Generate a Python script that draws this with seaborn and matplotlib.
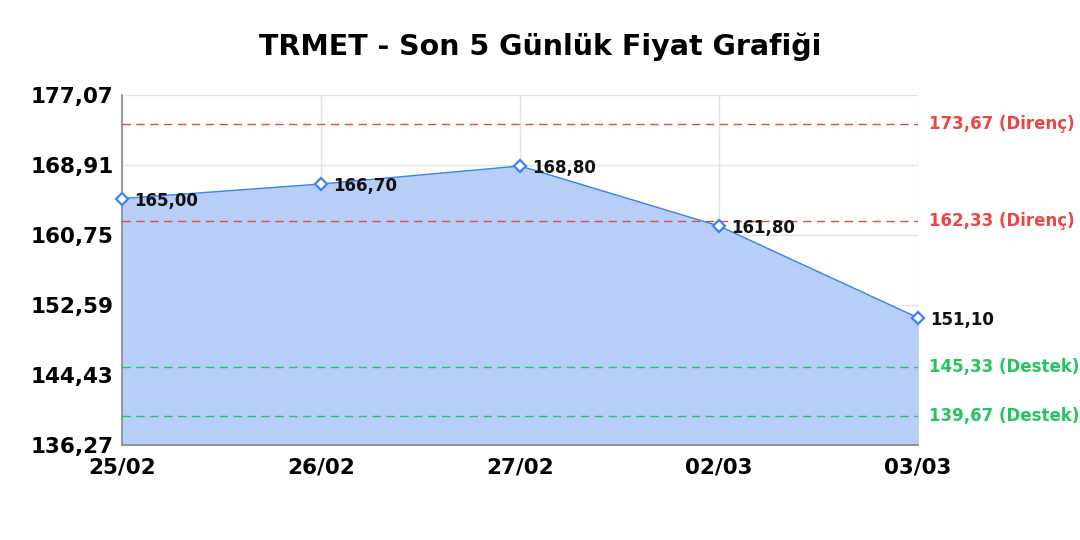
import matplotlib
matplotlib.use("Agg")
import matplotlib.pyplot as plt
import seaborn as sns
import pandas as pd

# data
dates = ["25/02", "26/02", "27/02", "02/03", "03/03"]
prices = [165.00, 166.70, 168.80, 161.80, 151.10]
resistance = [173.67, 162.33]
support = [145.33, 139.67]
y_min, y_max = 136.27, 177.07
y_ticks = [136.27, 144.43, 152.59, 160.75, 168.91, 177.07]

sns.set_style("white")
plt.rcParams["font.family"] = ["DejaVu Sans"]
plt.rcParams["text.color"] = "black"

df = pd.DataFrame({"x": range(len(dates)), "price": prices})

fig = plt.figure(figsize=(10.8, 5.4), dpi=100)
ax = fig.add_axes([0.113, 0.176, 0.737, 0.648])

line_col = "#3b82f6"
ax.fill_between(df["x"], df["price"], y_min, color="#b7cff8", zorder=1)
sns.lineplot(data=df, x="x", y="price", ax=ax, color=line_col, linewidth=1,
             marker="D", markersize=6, markerfacecolor="white",
             markeredgecolor=line_col, markeredgewidth=1.6, zorder=4, clip_on=False)

for lvl in resistance:
    ax.axhline(lvl, color="#ef4444", linestyle=(0, (6, 4)), linewidth=1, zorder=3)
    ax.text(1.014, lvl, f"{lvl:.2f} (Direnç)".replace(".", ","), transform=ax.get_yaxis_transform(),
            color="#ef4444", fontsize=12, fontweight="bold", va="center", ha="left", clip_on=False)
for lvl in support:
    ax.axhline(lvl, color="#22c55e", linestyle=(0, (6, 4)), linewidth=1, zorder=3)
    ax.text(1.014, lvl, f"{lvl:.2f} (Destek)".replace(".", ","), transform=ax.get_yaxis_transform(),
            color="#22c55e", fontsize=12, fontweight="bold", va="center", ha="left", clip_on=False)

for i, p in enumerate(prices):
    ax.annotate(f"{p:.2f}".replace(".", ","), (i, p), xytext=(9, -1.5), textcoords="offset points",
                fontsize=12, fontweight="bold", color="#111111", va="center", ha="left", zorder=5)

ax.set_xlim(0, len(dates) - 1)
ax.set_ylim(y_min, y_max)
ax.set_xticks(range(len(dates)))
ax.set_xticklabels(dates)
ax.set_yticks(y_ticks)
ax.set_yticklabels([f"{t:.2f}".replace(".", ",") for t in y_ticks])
ax.tick_params(axis="both", labelsize=15.5, length=0, labelcolor="black")
ax.tick_params(axis="x", pad=9)
ax.tick_params(axis="y", pad=6)
for lab in ax.get_xticklabels() + ax.get_yticklabels():
    lab.set_fontweight("bold")
ax.grid(True, color="#e3e3e3", linewidth=1, zorder=0)
ax.set_axisbelow(True)
for s in ["top", "right"]:
    ax.spines[s].set_visible(False)
for s in ["left", "bottom"]:
    ax.spines[s].set_color("#888888")
    ax.spines[s].set_linewidth(1.2)
ax.set_xlabel("")
ax.set_ylabel("")

fig.suptitle("TRMET - Son 5 Günlük Fiyat Grafiği", fontsize=20.5, fontweight="bold", y=0.94)

fig.savefig("out.png", dpi=100)
